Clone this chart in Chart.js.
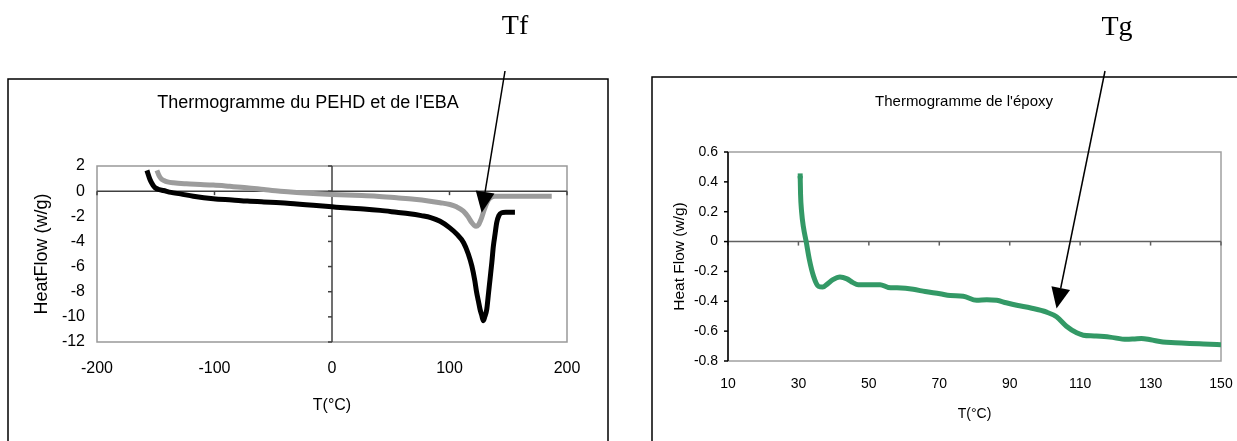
<!DOCTYPE html>
<html>
<head>
<meta charset="utf-8">
<script src="https://cdn.jsdelivr.net/npm/chart.js@4.4.0/dist/chart.umd.min.js"></script>
<style>
html, body { margin: 0; padding: 0; background: #fff; }
#wrapA { position: absolute; left: 0; top: 0; width: 630px; height: 441px; }
#wrapB { position: absolute; left: 630px; top: 0; width: 607px; height: 441px; }
</style>
</head>
<body>
<div id="wrapA"><canvas id="chartA"></canvas></div>
<div id="wrapB"><canvas id="chartB"></canvas></div>
<script>
// Data - left chart (PEHD black, EBA gray)
const pehdT  = [-157.5, -155, -152.5, -150.5, -147, -143.5, -137, -129, -118, -101, -85, -72, -58, -44, -30, -16, 0, 14, 27, 41, 55, 66, 76, 84, 92, 100, 106, 112, 116, 119, 121.5, 123, 124.5, 126, 127.5, 128.8, 130, 131.7, 133, 134.5, 136, 137.3, 138.8, 140.2, 142, 144.4, 148, 152, 155.7];
const pehdHF = [1.65, 0.95, 0.5, 0.27, 0.12, 0.05, -0.1, -0.22, -0.4, -0.6, -0.7, -0.79, -0.86, -0.92, -1.03, -1.13, -1.25, -1.35, -1.42, -1.53, -1.68, -1.8, -1.95, -2.1, -2.4, -2.9, -3.4, -4.1, -5.0, -5.95, -7.1, -8.0, -8.7, -9.4, -9.9, -10.3, -10.0, -9.4, -8.3, -7.0, -5.7, -4.4, -3.4, -2.5, -1.95, -1.72, -1.68, -1.68, -1.68];

const ebaT  = [-149, -147.5, -145.5, -143, -140, -135, -124, -112, -101, -87, -72.6, -58, -44, -30, -16, 0, 19, 38, 55, 70, 83.4, 92, 100.4, 106, 111.8, 115.5, 118.9, 121, 122.6, 124.5, 127.4, 129.5, 131.7, 134, 136.5, 138.7, 150, 165, 187];
const ebaHF = [1.65, 1.3, 1.0, 0.85, 0.74, 0.66, 0.58, 0.53, 0.48, 0.38, 0.27, 0.13, 0.0, -0.1, -0.18, -0.26, -0.33, -0.4, -0.53, -0.65, -0.8, -0.92, -1.06, -1.25, -1.59, -2.0, -2.5, -2.72, -2.8, -2.7, -2.1, -1.5, -0.95, -0.6, -0.45, -0.4, -0.4, -0.4, -0.4];

// Data - right chart (epoxy)
const epoxyT  = [30.5, 30.6, 30.9, 31.4, 32.2, 33.1, 34.3, 35.7, 36.9, 38.2, 39.8, 41.8, 43.8, 45.5, 47, 50, 53.2, 55.5, 58, 62.6, 66, 70.2, 73.1, 76.8, 80.6, 83.5, 86.3, 89, 92, 96, 100.5, 103.3, 106.1, 109, 110.9, 114, 118.4, 123.2, 125.5, 127.4, 130, 133.5, 137, 141.1, 145, 150];
const epoxyHF = [0.44, 0.32, 0.2, 0.1, 0.0, -0.12, -0.233, -0.3, -0.305, -0.285, -0.255, -0.237, -0.25, -0.275, -0.289, -0.29, -0.289, -0.307, -0.31, -0.32, -0.335, -0.35, -0.362, -0.366, -0.393, -0.39, -0.393, -0.41, -0.427, -0.445, -0.473, -0.504, -0.567, -0.611, -0.627, -0.632, -0.64, -0.655, -0.652, -0.649, -0.658, -0.673, -0.677, -0.682, -0.686, -0.691];

// Tick labels
const tempTicksA = [-200, -100, 0, 100, 200];
const hfTicksA   = [-12, -10, -8, -6, -4, -2, 0, 2];
const tempTicksB = [10, 30, 50, 70, 90, 110, 130, 150];
const hfTicksB   = [-0.8, -0.6, -0.4, -0.2, 0, 0.2, 0.4, 0.6];

// Annotation points (data coords of arrow tips)
const tfTip = [127.4, -1.71];
const tgTip = [103.3, -0.449];

const FONT = 'Arial, "Liberation Sans", sans-serif';
const SERIF = '"Times New Roman", "Liberation Serif", serif';

function pts(xs, ys) {
    return xs.map((x, i) => ({ x: x, y: ys[i] }));
}

function line(ctx, x1, y1, x2, y2) {
    ctx.beginPath();
    ctx.moveTo(x1, y1);
    ctx.lineTo(x2, y2);
    ctx.stroke();
}

// Excel-like frame: plot border, crossing axes, outer box, title, arrow
const framePlugin = {
    id: 'frame',
    beforeDatasetsDraw(chart, args, o) {
        const { ctx, chartArea: a, scales: { x, y } } = chart;
        ctx.save();
        ctx.lineWidth = 1.5;
        ctx.strokeStyle = o.borderColor;
        ctx.strokeRect(a.left, a.top, a.right - a.left, a.bottom - a.top);

        // horizontal axis at 0
        const y0 = y.getPixelForValue(0);
        ctx.strokeStyle = o.zeroColor;
        line(ctx, a.left, y0, a.right, y0);
        x.ticks.forEach(t => {
            const px = x.getPixelForValue(t.value);
            line(ctx, px, y0, px, y0 + 4);
        });

        // vertical axis
        const x0 = x.getPixelForValue(o.cross);
        ctx.strokeStyle = o.yAxisColor;
        line(ctx, x0, a.top, x0, a.bottom);
        y.ticks.forEach(t => {
            const py = y.getPixelForValue(t.value);
            line(ctx, x0 - 4, py, x0, py);
        });
        ctx.restore();
    },
    afterDraw(chart, args, o) {
        const { ctx, scales: { x, y } } = chart;
        const h = chart.height;
        ctx.save();
        // outer chart box
        ctx.strokeStyle = '#000';
        ctx.lineWidth = 1.5;
        ctx.beginPath();
        ctx.moveTo(o.box.left, h + 2);
        ctx.lineTo(o.box.left, o.box.top);
        ctx.lineTo(o.box.right, o.box.top);
        ctx.lineTo(o.box.right, h + 2);
        ctx.stroke();

        // chart title
        ctx.fillStyle = '#000';
        ctx.font = o.titleSize + 'px ' + FONT;
        ctx.textAlign = 'center';
        ctx.textBaseline = 'middle';
        ctx.fillText(o.title, o.titleX, o.titleY);

        // annotation label
        ctx.font = '28px ' + SERIF;
        ctx.textBaseline = 'alphabetic';
        ctx.fillText(o.label, o.labelX, o.labelY);

        // arrow
        const tx = x.getPixelForValue(o.tip[0]);
        const ty = y.getPixelForValue(o.tip[1]);
        const [sx, sy] = o.tail;
        const ang = Math.atan2(ty - sy, tx - sx);
        const len = 21, half = 9.5;
        const bx = tx - len * Math.cos(ang), by = ty - len * Math.sin(ang);
        ctx.lineWidth = 1.5;
        line(ctx, sx, sy, bx, by);
        ctx.beginPath();
        ctx.moveTo(tx, ty);
        ctx.lineTo(bx + half * Math.sin(ang), by - half * Math.cos(ang));
        ctx.lineTo(bx - half * Math.sin(ang), by + half * Math.cos(ang));
        ctx.closePath();
        ctx.fill();
        ctx.restore();
    }
};

function linearAxis(min, max, tickList, opt) {
    const isX = opt.axis === 'x';
    return {
        type: 'linear',
        position: isX ? 'bottom' : 'left',
        min: min,
        max: max,
        afterBuildTicks: s => { s.ticks = tickList.map(v => ({ value: v })); },
        afterFit: s => { if (isX) s.height = opt.size; else s.width = opt.size; },
        // invisible tick marks: they only push the labels away from the plot
        grid: {
            display: true,
            drawOnChartArea: false,
            drawTicks: true,
            tickLength: opt.tickPad - 2,
            color: 'rgba(0,0,0,0)',
            tickColor: 'rgba(0,0,0,0)'
        },
        border: { display: false },
        ticks: {
            color: '#000',
            font: { family: FONT, size: opt.fontSize },
            padding: 2,
            maxRotation: 0,
            autoSkip: false,
            callback: v => String(v)
        },
        title: {
            display: true,
            text: opt.title,
            color: '#000',
            font: { family: FONT, size: opt.titleSize },
            padding: isX ? { top: 0, bottom: opt.titlePad } : { top: opt.titlePad, bottom: 0 }
        }
    };
}

function initCharts() {
    new Chart(document.getElementById('chartA'), {
        type: 'scatter',
        data: {
            datasets: [
                {
                    label: 'EBA',
                    data: pts(ebaT, ebaHF),
                    showLine: true,
                    borderColor: '#9c9c9c',
                    borderWidth: 5,
                    pointRadius: 0,
                    cubicInterpolationMode: 'monotone'
                },
                {
                    label: 'PEHD',
                    data: pts(pehdT, pehdHF),
                    showLine: true,
                    borderColor: '#000000',
                    borderWidth: 5,
                    pointRadius: 0,
                    cubicInterpolationMode: 'monotone'
                }
            ]
        },
        options: {
            responsive: true,
            maintainAspectRatio: false,
            animation: false,
            layout: { padding: { left: 0, top: 166, right: 63, bottom: 0 } },
            plugins: {
                legend: { display: false },
                tooltip: { enabled: false },
                frame: {
                    cross: 0,
                    borderColor: '#999999',
                    zeroColor: '#404040',
                    yAxisColor: '#404040',
                    box: { left: 8, top: 79, right: 608 },
                    title: "Thermogramme du PEHD et de l'EBA",
                    titleSize: 18,
                    titleX: 308,
                    titleY: 103,
                    label: 'Tf',
                    labelX: 515,
                    labelY: 34,
                    tail: [505, 71],
                    tip: tfTip
                }
            },
            scales: {
                x: linearAxis(-200, 200, tempTicksA, { axis: 'x', size: 99, fontSize: 16, titleSize: 16, tickPad: 17, title: 'T(°C)', titlePad: 26 }),
                y: linearAxis(-12, 2, hfTicksA, { axis: 'y', size: 97, fontSize: 16, titleSize: 18, tickPad: 12, title: 'HeatFlow (w/g)', titlePad: 31 })
            }
        },
        plugins: [framePlugin]
    });

    new Chart(document.getElementById('chartB'), {
        type: 'scatter',
        data: {
            datasets: [
                {
                    label: 'Epoxy',
                    data: pts(epoxyT, epoxyHF),
                    showLine: true,
                    borderColor: '#339966',
                    borderWidth: 5,
                    pointRadius: ctx => ctx.dataIndex === 0 ? 3.5 : 0,
                    pointStyle: 'rect',
                    pointBackgroundColor: '#339966',
                    pointBorderWidth: 0,
                    cubicInterpolationMode: 'monotone'
                }
            ]
        },
        options: {
            responsive: true,
            maintainAspectRatio: false,
            animation: false,
            layout: { padding: { left: 0, top: 152, right: 16, bottom: 0 } },
            plugins: {
                legend: { display: false },
                tooltip: { enabled: false },
                frame: {
                    cross: 10,
                    borderColor: '#a0a0a0',
                    zeroColor: '#606060',
                    yAxisColor: '#000000',
                    box: { left: 22, top: 77, right: 700 },
                    title: "Thermogramme de l'époxy",
                    titleSize: 15,
                    titleX: 334,
                    titleY: 102,
                    label: 'Tg',
                    labelX: 487,
                    labelY: 35,
                    tail: [475, 71],
                    tip: tgTip
                }
            },
            scales: {
                x: linearAxis(10, 150, tempTicksB, { axis: 'x', size: 80, fontSize: 14, titleSize: 14, tickPad: 15, title: 'T(°C)', titlePad: 18 }),
                y: linearAxis(-0.8, 0.6, hfTicksB, { axis: 'y', size: 98, fontSize: 14, titleSize: 15.5, tickPad: 10, title: 'Heat Flow (w/g)', titlePad: 40 })
            }
        },
        plugins: [framePlugin]
    });
}

document.addEventListener('DOMContentLoaded', initCharts);
</script>
</body>
</html>
